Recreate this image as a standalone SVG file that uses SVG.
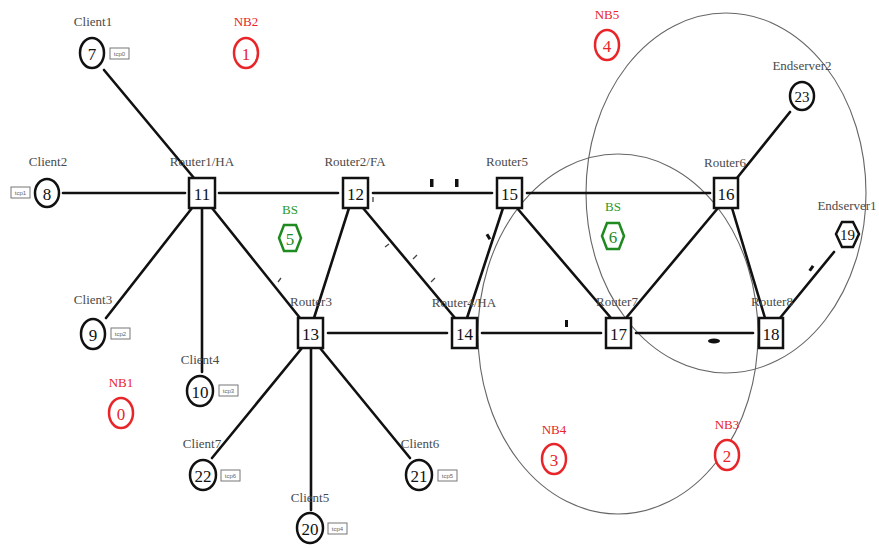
<svg xmlns="http://www.w3.org/2000/svg" width="879" height="549" viewBox="0 0 879 549">
<style>
.lbl{font-family:"Liberation Serif","DejaVu Serif",serif;font-size:13px;fill:#4a4a4a;text-anchor:middle}
.nb{font-family:"Liberation Serif","DejaVu Serif",serif;font-size:13px;fill:#e8262a;text-anchor:middle}
.bs{font-family:"Liberation Serif","DejaVu Serif",serif;font-size:13px;fill:#2a9a2a;text-anchor:middle}
.num{font-family:"Liberation Serif","DejaVu Serif",serif;font-size:17px;fill:#111;text-anchor:middle;dominant-baseline:central}
.numr{font-family:"Liberation Serif","DejaVu Serif",serif;font-size:17px;fill:#e8262a;text-anchor:middle;dominant-baseline:central}
.numg{font-family:"Liberation Serif","DejaVu Serif",serif;font-size:17px;fill:#1f8a1f;text-anchor:middle;dominant-baseline:central}
.cn{fill:#fff;stroke:#111;stroke-width:2.5}
.rn{fill:#fff;stroke:#e8262a;stroke-width:2.5}
.gn{fill:#fff;stroke:#1f8a1f;stroke-width:2.5}
.sq{fill:#fff;stroke:#111;stroke-width:2.5}
.ag{fill:#fff;stroke:#777;stroke-width:1}
.agt{font-family:"Liberation Sans","DejaVu Sans",sans-serif;font-size:6px;fill:#666;text-anchor:middle}
.edge{stroke:#111;stroke-width:2.6;fill:none;stroke-linecap:round}
.pk{fill:#111}
.tick{stroke:#444;stroke-width:1.3}
.range{fill:none;stroke:#666;stroke-width:1.1}
</style>

<g id="ranges">
<ellipse class="range" cx="726" cy="193" rx="140" ry="180"/>
<ellipse class="range" cx="618" cy="334" rx="140" ry="180"/>
</g>

<g id="connectors">
<line class="edge" x1="104" y1="70" x2="194" y2="178"/>
<line class="edge" x1="63" y1="193" x2="185" y2="193"/>
<line class="edge" x1="219" y1="193" x2="338" y2="193"/>
<line class="edge" x1="373" y1="193" x2="492" y2="193"/>
<line class="edge" x1="527" y1="193" x2="710" y2="193"/>
<line class="edge" x1="737" y1="178" x2="790" y2="112"/>
<line class="edge" x1="192" y1="208" x2="106" y2="318"/>
<line class="edge" x1="202" y1="208" x2="202" y2="372"/>
<line class="edge" x1="212" y1="208" x2="300" y2="318"/>
<line class="edge" x1="349" y1="208" x2="314" y2="318"/>
<line class="edge" x1="363" y1="208" x2="455" y2="318"/>
<line class="edge" x1="503" y1="208" x2="467" y2="318"/>
<line class="edge" x1="517" y1="208" x2="611" y2="318"/>
<line class="edge" x1="718" y1="208" x2="626" y2="318"/>
<line class="edge" x1="732" y1="208" x2="765" y2="318"/>
<line class="edge" x1="780" y1="318" x2="834" y2="252"/>
<line class="edge" x1="328" y1="333" x2="447" y2="333"/>
<line class="edge" x1="482" y1="333" x2="601" y2="333"/>
<line class="edge" x1="636" y1="333" x2="753" y2="333"/>
<line class="edge" x1="302" y1="348" x2="212" y2="458"/>
<line class="edge" x1="311" y1="348" x2="311" y2="510"/>
<line class="edge" x1="320" y1="348" x2="410" y2="458"/>
</g>

<g id="packets">
<rect class="pk" x="430" y="179" width="3.5" height="8"/>
<rect class="pk" x="455" y="179" width="3.5" height="8"/>
<rect class="pk" x="565" y="320" width="3" height="7"/>
<ellipse class="pk" cx="714" cy="341" rx="6" ry="2.5"/>
<rect class="pk" x="487" y="234" width="3" height="6" transform="rotate(-30 488 237)"/>
<rect class="pk" x="810" y="265" width="3" height="6" transform="rotate(35 811 268)"/>
<line class="tick" x1="278" y1="282" x2="281" y2="278"/>
<line class="tick" x1="385" y1="247" x2="389" y2="244"/>
<line class="tick" x1="413" y1="259" x2="417" y2="255"/>
<line class="tick" x1="431" y1="282" x2="435" y2="278"/>
<line class="tick" x1="373" y1="197" x2="373" y2="202"/>
</g>

<g id="n7"><text class="lbl" x="93" y="26">Client1</text><ellipse class="cn" cx="92" cy="53" rx="12" ry="15"/><text class="num" x="92" y="54">7</text><rect class="ag" x="110" y="48" width="19" height="11"/><text class="agt" x="119.5" y="56">tcp0</text></g>
<g id="n1"><text class="nb" x="246" y="26">NB2</text><ellipse class="rn" cx="246" cy="53" rx="12" ry="15"/><text class="numr" x="246" y="54">1</text></g>
<g id="n8"><text class="lbl" x="48" y="166">Client2</text><ellipse class="cn" cx="47" cy="193" rx="12" ry="14"/><text class="num" x="47" y="194">8</text><rect class="ag" x="11" y="187" width="19" height="11"/><text class="agt" x="20.5" y="195">tcp1</text></g>
<g id="n11"><text class="lbl" x="202" y="166">Router1/HA</text><rect class="sq" x="189" y="178" width="26" height="30"/><text class="num" x="202" y="194">11</text></g>
<g id="n12"><text class="lbl" x="355" y="166">Router2/FA</text><rect class="sq" x="343" y="178" width="25" height="30"/><text class="num" x="355.5" y="194">12</text></g>
<g id="n15"><text class="lbl" x="507" y="166">Router5</text><rect class="sq" x="497" y="178" width="25" height="30"/><text class="num" x="509.5" y="194">15</text></g>
<g id="n16"><text class="lbl" x="725" y="167">Router6</text><rect class="sq" x="714" y="178" width="24" height="30"/><text class="num" x="726" y="194">16</text></g>
<g id="n4"><text class="nb" x="607" y="19">NB5</text><ellipse class="rn" cx="607" cy="45" rx="12" ry="15"/><text class="numr" x="607" y="46">4</text></g>
<g id="n23"><text class="lbl" x="802" y="70">Endserver2</text><ellipse class="cn" cx="802" cy="96" rx="12" ry="14"/><text class="num" x="802" y="97" style="font-size:15px">23</text></g>
<g id="n19"><text class="lbl" x="847" y="210">Endserver1</text><polygon class="sq" points="836,234 842,222 853,222 859,234 853,247 842,247"/><text class="num" x="847.5" y="235" style="font-size:15px">19</text></g>
<g id="n5"><text class="bs" x="290" y="214">BS</text><polygon class="gn" points="279,238 284,225 296,225 301,238 296,251 284,251"/><text class="numg" x="290" y="239">5</text></g>
<g id="n6"><text class="bs" x="613" y="211">BS</text><polygon class="gn" points="602,236 607,223 619,223 624,236 619,249 607,249"/><text class="numg" x="613" y="237">6</text></g>
<g id="n9"><text class="lbl" x="93" y="304">Client3</text><ellipse class="cn" cx="93" cy="334" rx="12" ry="15"/><text class="num" x="93" y="335">9</text><rect class="ag" x="111" y="328" width="19" height="11"/><text class="agt" x="120.5" y="336">tcp2</text></g>
<g id="n10"><text class="lbl" x="200" y="364">Client4</text><ellipse class="cn" cx="200" cy="391" rx="13" ry="15"/><text class="num" x="200" y="392">10</text><rect class="ag" x="219" y="385" width="19" height="11"/><text class="agt" x="228.5" y="393">tcp3</text></g>
<g id="n0"><text class="nb" x="121" y="387">NB1</text><ellipse class="rn" cx="121" cy="413" rx="12" ry="15"/><text class="numr" x="121" y="414">0</text></g>
<g id="n13"><text class="lbl" x="311" y="306">Router3</text><rect class="sq" x="298" y="318" width="25" height="30"/><text class="num" x="310.5" y="334">13</text></g>
<g id="n14"><text class="lbl" x="464" y="307">Router4/HA</text><rect class="sq" x="452" y="318" width="25" height="30"/><text class="num" x="464.5" y="334">14</text></g>
<g id="n17"><text class="lbl" x="617" y="306">Router7</text><rect class="sq" x="606" y="318" width="25" height="30"/><text class="num" x="618.5" y="334">17</text></g>
<g id="n18"><text class="lbl" x="772" y="306">Router8</text><rect class="sq" x="759" y="318" width="24" height="30"/><text class="num" x="771" y="334">18</text></g>
<g id="n22"><text class="lbl" x="202" y="448">Client7</text><ellipse class="cn" cx="203" cy="475" rx="13" ry="15"/><text class="num" x="203" y="476">22</text><rect class="ag" x="221" y="470" width="19" height="11"/><text class="agt" x="230.5" y="478">tcp6</text></g>
<g id="n21"><text class="lbl" x="420" y="448">Client6</text><ellipse class="cn" cx="419" cy="475" rx="13" ry="15"/><text class="num" x="419" y="476">21</text><rect class="ag" x="438" y="470" width="19" height="11"/><text class="agt" x="447.5" y="478">tcp5</text></g>
<g id="n20"><text class="lbl" x="310" y="502">Client5</text><ellipse class="cn" cx="310" cy="528" rx="13" ry="15"/><text class="num" x="310" y="529">20</text><rect class="ag" x="328" y="523" width="19" height="11"/><text class="agt" x="337.5" y="531">tcp4</text></g>
<g id="n3"><text class="nb" x="554" y="434">NB4</text><ellipse class="rn" cx="554" cy="459" rx="12" ry="15"/><text class="numr" x="554" y="460">3</text></g>
<g id="n2"><text class="nb" x="727" y="429">NB3</text><ellipse class="rn" cx="727" cy="455" rx="12" ry="15"/><text class="numr" x="727" y="456">2</text></g>
</svg>
